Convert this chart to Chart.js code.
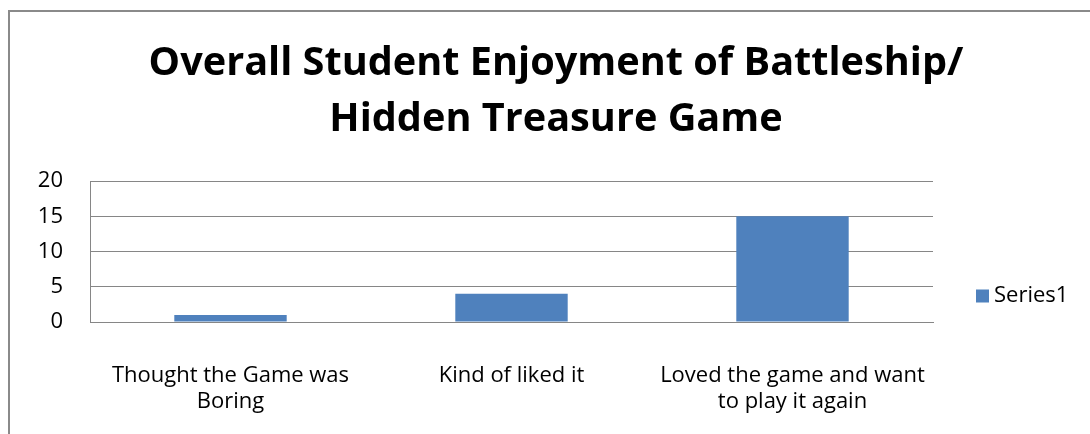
<!DOCTYPE html>
<html><head><meta charset="utf-8">
<script src="https://cdn.jsdelivr.net/npm/chart.js@4.4.0/dist/chart.umd.min.js"></script>
<style>
html,body{margin:0;padding:0;background:#fff;overflow:hidden;width:1090px;height:434px;}
#wrap{position:absolute;left:0;top:0;width:1112px;height:434px;}
#frame{position:absolute;left:8px;top:10px;width:1100px;height:440px;border-left:2px solid #8a8a8a;border-top:2px solid #8a8a8a;pointer-events:none;}
</style></head><body>
<div id="wrap"><canvas id="c" width="1112" height="434" style="width:1112px;height:434px"></canvas></div>
<div id="frame"></div>
<script>
const categories = [["Thought the Game was", "Boring"], "Kind of liked it", ["Loved the game and want", "to play it again"]];
const seriesName = "Series1";
const values = [1, 4, 15];
const yTicks = [0, 5, 10, 15, 20];
const titleLines = ["Overall Student Enjoyment of Battleship/", "Hidden Treasure Game"];

// choose a narrow bold font for the title if available
function installed(name) {
  const c = document.createElement('canvas').getContext('2d');
  const s = 'Overall Student Enjoyment 0123';
  c.font = 'bold 40px monospace';
  const a = c.measureText(s).width;
  c.font = 'bold 40px "' + name + '", monospace';
  return Math.abs(c.measureText(s).width - a) > 0.5;
}
let titleFamily = installed('Liberation Sans Narrow') ? '"Liberation Sans Narrow"' : '"Open Sans"';
const mctx = document.createElement('canvas').getContext('2d');
mctx.font = 'bold 100px ' + titleFamily;
let titleSize = Math.min(46, 100 * 815 / mctx.measureText(titleLines[0]).width);

const textFont = '"Open Sans", "DejaVu Sans", sans-serif';

const sideLegend = {
  id: 'sideLegend',
  afterDraw(chart) {
    const {ctx, chartArea} = chart;
    const ds = chart.data.datasets[0];
    const x = chartArea.right + 43;
    const yMid = chartArea.bottom - 26;
    ctx.save();
    ctx.fillStyle = ds.backgroundColor;
    ctx.fillRect(x, yMid - 6.5, 13, 13);
    ctx.fillStyle = '#000';
    ctx.font = '22px ' + textFont;
    ctx.textBaseline = 'middle';
    ctx.textAlign = 'left';
    ctx.fillText(ds.label, x + 18, yMid);
    ctx.restore();
  }
};

new Chart(document.getElementById('c'), {
  type: 'bar',
  data: {
    labels: categories,
    datasets: [{
      label: seriesName,
      data: values,
      backgroundColor: '#4F81BD',
      borderWidth: 0,
      categoryPercentage: 1,
      barPercentage: 0.4,
      yAxisID: 'y'
    }]
  },
  options: {
    responsive: false,
    animation: false,
    devicePixelRatio: 1,
    layout: { padding: 0 },
    plugins: {
      legend: { display: false },
      tooltip: { enabled: false },
      title: {
        display: true,
        text: titleLines,
        color: '#000',
        font: { family: titleFamily, size: titleSize, weight: 'bold', lineHeight: 56 / titleSize },
        padding: { top: 36, bottom: 33 }
      }
    },
    scales: {
      x: {
        afterFit: s => { s.height = 112; },
        grid: { display: false },
        border: { display: true, color: '#868686', width: 1 },
        ticks: { color: '#000', font: { family: textFont, size: 22, lineHeight: 26 / 22 }, padding: 33, maxRotation: 0, autoSkip: false }
      },
      y: {
        min: 0, max: 20,
        afterBuildTicks: s => { s.ticks = yTicks.map(v => ({ value: v })); },
        afterFit: s => { s.width = 90; },
        grid: { color: '#868686', lineWidth: 1, drawTicks: false },
        border: { display: true, color: '#868686', width: 1 },
        ticks: { color: '#000', font: { family: textFont, size: 22 }, padding: 27, autoSkip: false }
      },
      yR: {
        position: 'right',
        display: true,
        afterFit: s => { s.width = 179; },
        grid: { display: false },
        border: { display: false },
        ticks: { display: false }
      }
    }
  },
  plugins: [sideLegend]
});
</script>
</body></html>
